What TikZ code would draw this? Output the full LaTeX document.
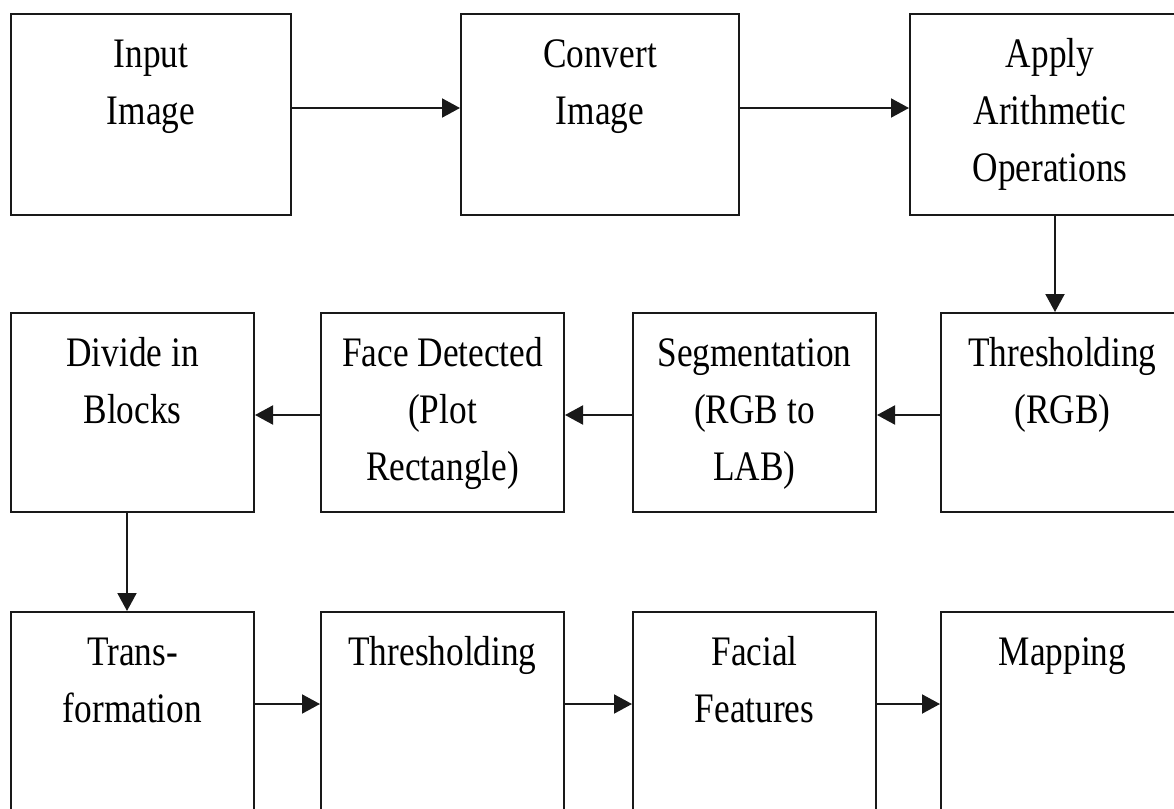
\documentclass[tikz,border=0pt]{standalone}
\usepackage{fontspec}
\setmainfont{Liberation Serif}[FakeStretch=0.84]
\usetikzlibrary{arrows.meta}
\newcommand\bt[3]{\parbox[c][#2][t]{#1}{\centering\fontsize{21}{28.7}\selectfont\rule{0pt}{26.5pt}#3}}
\tikzset{
  blk/.style={draw=black!90, line width=1pt, inner sep=0pt, anchor=north west, fill=white},
  arr/.style={draw=black!90, line width=1pt, -{Triangle[length=9pt,width=9.5pt]}}
}
\begin{document}
\begin{tikzpicture}[x=0.5pt,y=-0.5pt]
\useasboundingbox (0,0) rectangle (1174,809);
\clip (0,0) rectangle (1174,809);
% row 1
\node[blk] (in)   at (10,13)  {\bt{140pt}{100.5pt}{Input\\Image}};
\node[blk] (conv) at (460,13) {\bt{139pt}{100.5pt}{Convert\\Image}};
\node[blk] (app)  at (909,13) {\bt{140pt}{100.5pt}{Apply\\Arithmetic\\Operations}};
% row 2
\node[blk] (div)  at (10,312)  {\bt{121.5pt}{99.5pt}{Divide in\\Blocks}};
\node[blk] (face) at (320,312) {\bt{121.5pt}{99.5pt}{Face Detected\\(Plot\\Rectangle)}};
\node[blk] (seg)  at (632,312) {\bt{121.5pt}{99.5pt}{Segmentation\\(RGB to\\LAB)}};
\node[blk] (thr)  at (940,312) {\bt{121.5pt}{99.5pt}{Thresholding\\(RGB)}};
% row 3
\node[blk] (tra)  at (10,611)  {\bt{121.5pt}{110pt}{Trans-\\formation}};
\node[blk] (thb)  at (320,611) {\bt{121.5pt}{110pt}{Thresholding}};
\node[blk] (fac)  at (632,611) {\bt{121.5pt}{110pt}{Facial\\Features}};
\node[blk] (map)  at (940,611) {\bt{121.5pt}{110pt}{Mapping}};
% connectors
\draw[arr] (in.east |- 0,108) -- (conv.west |- 0,108);
\draw[arr] (conv.east |- 0,108) -- (app.west |- 0,108);
\draw[arr] (app.south west -| 1055,0) -- (thr.north -| 1055,0);
\draw[arr] (thr.west |- 0,415) -- (seg.east |- 0,415);
\draw[arr] (seg.west |- 0,415) -- (face.east |- 0,415);
\draw[arr] (face.west |- 0,415) -- (div.east |- 0,415);
\draw[arr] (div.south -| 127,0) -- (tra.north -| 127,0);
\draw[arr] (tra.east |- 0,704) -- (thb.west |- 0,704);
\draw[arr] (thb.east |- 0,704) -- (fac.west |- 0,704);
\draw[arr] (fac.east |- 0,704) -- (map.west |- 0,704);
\end{tikzpicture}
\end{document}
